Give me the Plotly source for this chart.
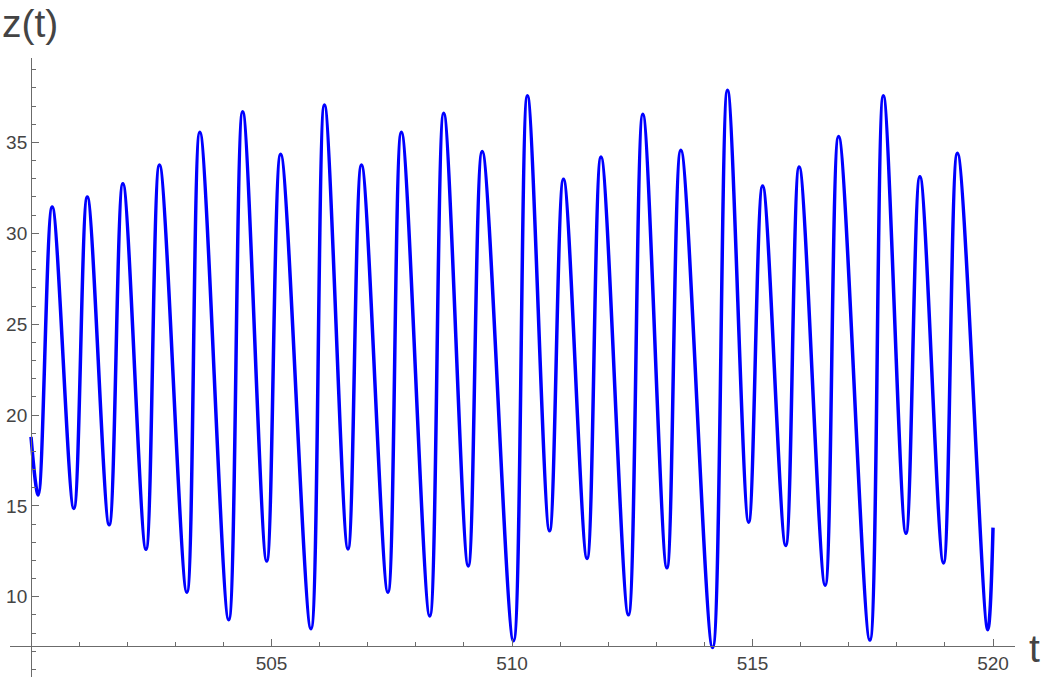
import plotly.graph_objects as go

# Extrema (and endpoints)
t_pts = [500.00, 500.15, 500.44, 500.89, 501.17, 501.625, 501.91, 502.39, 502.67, 503.24,
         503.51, 504.11, 504.40, 504.90, 505.19, 505.82, 506.10, 506.59, 506.87, 507.42,
         507.70, 508.29, 508.58, 509.09, 509.38, 510.03, 510.32, 510.78, 511.07, 511.56,
         511.85, 512.42, 512.72, 513.22, 513.51, 514.17, 514.48, 514.92, 515.21, 515.69,
         515.97, 516.51, 516.79, 517.44, 517.72, 518.19, 518.48, 518.97, 519.26, 519.89, 520.00]
z_pts = [18.8, 15.6, 31.45, 14.86, 32.0, 13.96, 32.73, 12.61, 33.76, 10.24,
         35.57, 8.73, 36.69, 11.96, 34.35, 8.24, 37.06, 12.63, 33.76, 10.24,
         35.57, 8.94, 36.61, 11.69, 34.51, 7.57, 37.57, 13.63, 32.98, 12.1,
         34.2, 9.0, 36.55, 11.59, 34.57, 7.2, 37.88, 14.1, 32.61, 12.82,
         33.65, 10.63, 35.33, 7.61, 37.57, 13.49, 33.12, 11.86, 34.41, 8.18, 13.8]

x_ticks = [505, 510, 515, 520]
y_ticks = [10, 15, 20, 25, 30, 35]

W, H = 1042, 682
L, R, T, B = 10, 1015, 58, 677   # plot area in pixels
x_range = [499.563, 520.457]
y_range = [5.58, 39.65]
x_axis_at = 7.265   # z value where the t axis crosses
y_axis_at = 500.0   # t value where the z axis crosses

axis_col = "#6b6b6b"
lab_col = "#444444"
font_fam = "Liberation Sans, Arial, sans-serif"

fig = go.Figure()
fig.add_trace(go.Scatter(x=t_pts, y=z_pts, mode="lines",
                         line=dict(color="#0000ff", width=3.5, shape="spline", smoothing=1.0),
                         hoverinfo="skip"))

xpos = (x_axis_at - y_range[0]) / (y_range[1] - y_range[0])
ypos = (y_axis_at - x_range[0]) / (x_range[1] - x_range[0])

fig.update_layout(
    width=W, height=H, autosize=False,
    margin=dict(l=L, r=W - R, t=T, b=H - B, pad=0),
    paper_bgcolor="white", plot_bgcolor="white", showlegend=False,
    xaxis=dict(range=x_range, anchor="free", position=xpos, showgrid=False, zeroline=False,
               showline=True, linecolor=axis_col, linewidth=1,
               tickmode="array", tickvals=x_ticks, ticks="inside", ticklen=7,
               tickcolor=axis_col, tickwidth=1,
               tickfont=dict(family=font_fam, size=19, color=lab_col),
               minor=dict(dtick=1, tick0=0, ticks="inside", ticklen=4, tickcolor=axis_col),
               fixedrange=True),
    yaxis=dict(range=y_range, anchor="free", position=ypos, showgrid=False, zeroline=False,
               showline=True, linecolor=axis_col, linewidth=1,
               tickmode="array", tickvals=y_ticks, ticks="inside", ticklen=7,
               tickcolor=axis_col, tickwidth=1,
               tickfont=dict(family=font_fam, size=19, color=lab_col),
               minor=dict(dtick=1, tick0=0, ticks="inside", ticklen=4, tickcolor=axis_col),
               fixedrange=True),
)

def px_x(p):
    return (p - L) / (R - L)

def px_y(p):
    return (B - p) / (B - T)

fig.add_annotation(text="z(t)", xref="paper", yref="paper", x=px_x(0), y=px_y(0),
                   xanchor="left", yanchor="top", showarrow=False,
                   font=dict(family=font_fam, size=39, color=lab_col))
fig.add_annotation(text="t", xref="paper", yref="paper", x=px_x(1042), y=px_y(648),
                   xanchor="right", yanchor="middle", showarrow=False,
                   font=dict(family=font_fam, size=39, color=lab_col))

fig.write_html("out.html", config={"displayModeBar": False},
               post_script="document.body.style.margin='0';")
